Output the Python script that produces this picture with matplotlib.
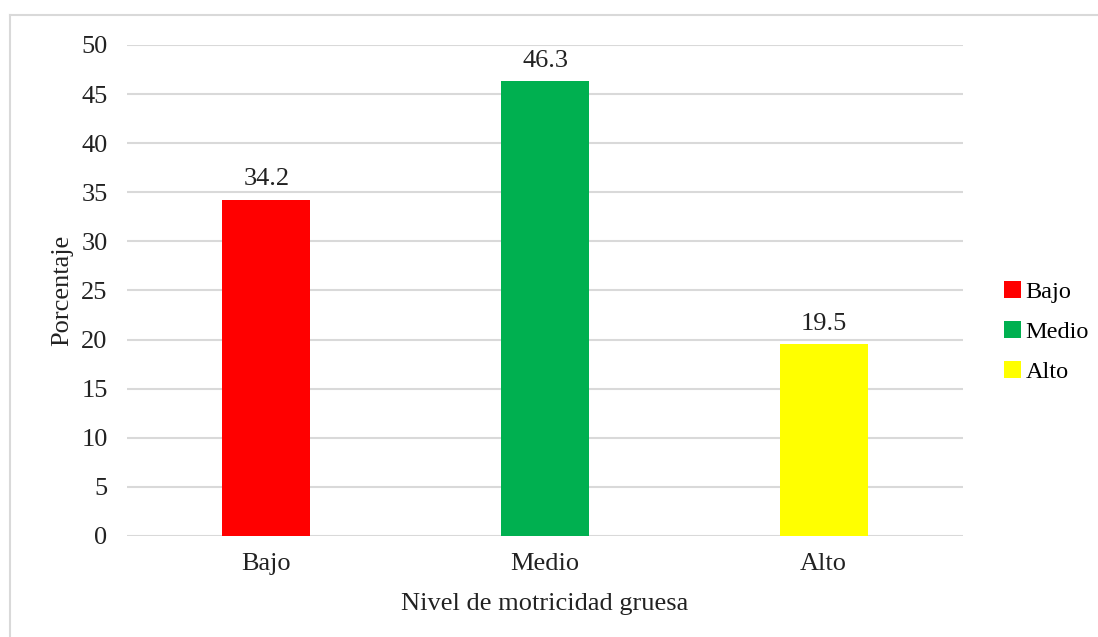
import numpy as np
import matplotlib.pyplot as plt
from matplotlib.patches import Patch
from matplotlib.lines import Line2D

categories = ['Bajo', 'Medio', 'Alto']
values = [34.2, 46.3, 19.5]
colors = ['#FF0000', '#00B050', '#FFFF00']
yticks = [0, 5, 10, 15, 20, 25, 30, 35, 40, 45, 50]

plt.rcParams['font.family'] = ['Liberation Serif', 'DejaVu Serif']
FONTSIZE = 19

fig = plt.figure(figsize=(10.98, 6.37), dpi=100)
ax = fig.add_axes([0.1157, 0.1586, 0.7614, 0.7708])

x = np.arange(len(categories))
bars = ax.bar(x, values, width=0.316, color=colors, zorder=3)

for xi, v in zip(x, values):
    ax.annotate('%.1f' % v, (xi, v), xytext=(0, 7), textcoords='offset points',
                ha='center', va='bottom', fontsize=FONTSIZE, color='#222222')

ax.set_xlim(-0.5, len(categories) - 0.5)
ax.set_ylim(0, 50)
ax.set_yticks(yticks)
ax.set_xticks(x)
ax.set_xticklabels(categories)
ax.tick_params(axis='both', length=0, labelsize=FONTSIZE, colors='#222222')
ax.tick_params(axis='y', pad=14)
ax.tick_params(axis='x', pad=12)

ax.grid(axis='y', color='#D9D9D9', linewidth=1.5, zorder=0)
for s in ax.spines.values():
    s.set_visible(False)

ax.set_ylabel('Porcentaje', fontsize=FONTSIZE, color='#222222', labelpad=6)
ax.set_xlabel('Nivel de motricidad gruesa', fontsize=FONTSIZE, color='#222222', labelpad=13)

handles = [Patch(facecolor=c, edgecolor='none') for c in colors]
leg = fig.legend(handles, categories, loc='center left', bbox_to_anchor=(0.914, 0.479),
                 frameon=False, fontsize=17.5, handlelength=0.7, handleheight=0.7,
                 handletextpad=0.2, labelspacing=0.73, borderpad=0, borderaxespad=0)

# outer chart border (top and left visible)
fig.add_artist(Line2D([10 / 1098, 1.0], [1 - 15 / 637, 1 - 15 / 637],
                      transform=fig.transFigure, color='#D9D9D9', linewidth=1.5))
fig.add_artist(Line2D([10 / 1098, 10 / 1098], [0.0, 1 - 15 / 637],
                      transform=fig.transFigure, color='#D9D9D9', linewidth=1.5))

fig.savefig('out.png', dpi=100)
